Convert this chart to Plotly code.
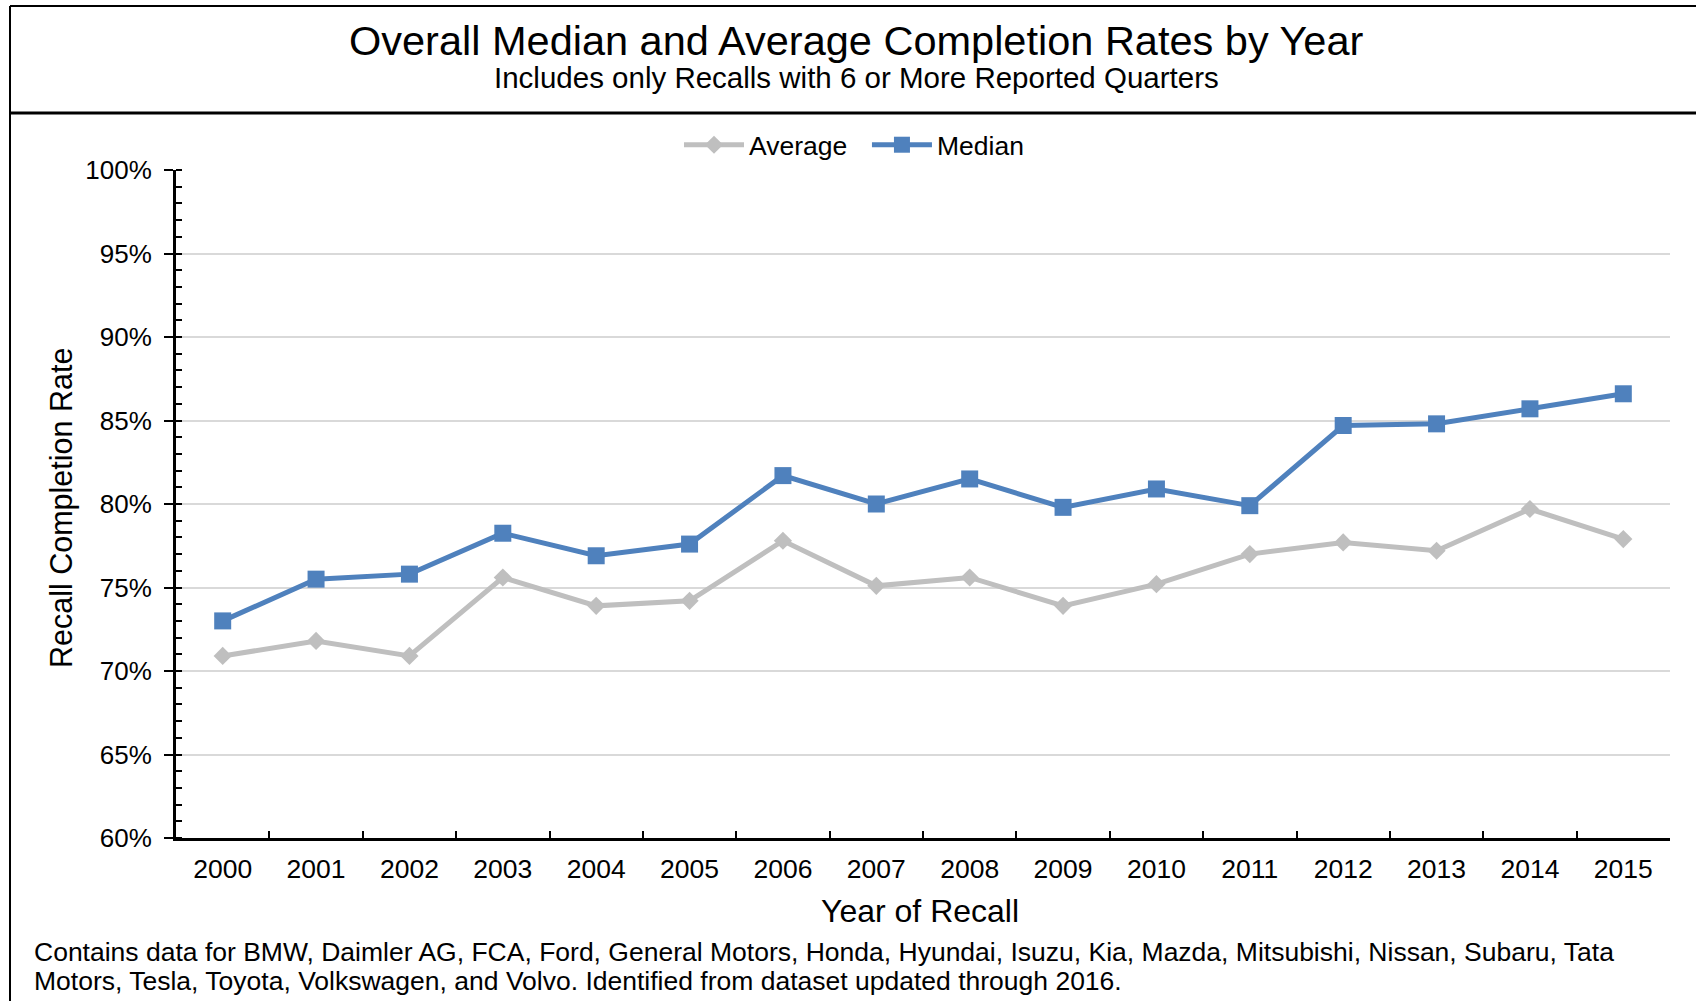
"""Overall median and average recall completion rates by year."""
import plotly.graph_objects as go

years = [str(y) for y in range(2000, 2016)]
average_rate = [70.9, 71.8, 70.9, 75.6, 73.9, 74.2, 77.8, 75.1,
                75.6, 73.9, 75.2, 77.0, 77.7, 77.2, 79.7, 77.9]
median_rate = [73.0, 75.5, 75.8, 78.25, 76.9, 77.6, 81.7, 80.0,
               81.5, 79.8, 80.9, 79.9, 84.7, 84.8, 85.7, 86.6]

FONT = 'Liberation Sans, Arial, sans-serif'
W, H = 1696, 1001
# plot area in pixels
L, R, T, B = 176, 1670, 170, 838


def px_x(x):
    return (x - L) / (R - L)


def px_y(y):
    return (B - y) / (B - T)


fig = go.Figure()

fig.add_trace(go.Scatter(
    x=years, y=average_rate, name='Average\u00a0\u00a0', mode='lines+markers',
    line=dict(color='#bfbfbf', width=5),
    marker=dict(symbol='diamond', size=14, color='#bfbfbf'),
))
fig.add_trace(go.Scatter(
    x=years, y=median_rate, name='Median', mode='lines+markers',
    line=dict(color='#4f81bd', width=5),
    marker=dict(symbol='square', size=17, color='#4f81bd'),
))

# ── frame lines ───────────────────────────────────────────────────────────
frame = [
    (10, 6, W, 6, 2),
    (10, 6, 10, H, 2),
    (10, 113, W, 113, 3),
]
shapes = [
    dict(type='line', xref='paper', yref='paper',
         x0=px_x(x0), y0=px_y(y0), x1=px_x(x1), y1=px_y(y1),
         line=dict(color='#000000', width=w))
    for x0, y0, x1, y1, w in frame
]

# ── text ──────────────────────────────────────────────────────────────────
def note(text, x, y, size, xanchor='center', angle=0):
    return dict(text=text, xref='paper', yref='paper', x=px_x(x), y=px_y(y),
                xanchor=xanchor, yanchor='middle', showarrow=False,
                textangle=angle, font=dict(family=FONT, size=size, color='#000000'))


annotations = [
    note('Overall Median and Average Completion Rates by Year', 856, 40, 41.5),
    note('Includes only Recalls with 6 or More Reported Quarters', 856, 78, 29.5),
    note('Year of Recall', 920, 911, 32),
    note('Recall Completion Rate', 62, 508, 30.5, angle=-90),
    note('Contains data for BMW, Daimler AG, FCA, Ford, General Motors, Honda, Hyundai, '
         'Isuzu, Kia, Mazda, Mitsubishi, Nissan, Subaru, Tata', 32, 952, 26.5, xanchor='left'),
    note('Motors, Tesla, Toyota, Volkswagen, and Volvo. Identified from dataset updated '
         'through 2016.', 32, 981, 26.5, xanchor='left'),
]

fig.update_layout(
    width=W, height=H,
    margin=dict(l=L, r=W - R, t=T, b=H - B),
    paper_bgcolor='#ffffff', plot_bgcolor='#ffffff',
    font=dict(family=FONT, size=26, color='#000000'),
    showlegend=True,
    legend=dict(
        orientation='h', x=px_x(854), y=px_y(145),
        xanchor='center', yanchor='middle',
        font=dict(size=26.5), itemwidth=60,
        bgcolor='rgba(0,0,0,0)',
    ),
    shapes=shapes,
    annotations=annotations,
    xaxis=dict(
        type='category', tickson='boundaries', range=[-0.5, 15.5],
        showline=True, linecolor='#000000', linewidth=3,
        ticks='inside', ticklen=7, tickwidth=2, tickcolor='#000000',
        ticklabelstandoff=5,
        showgrid=False, tickfont=dict(size=26.5),
    ),
    yaxis=dict(
        range=[60, 100], dtick=5, ticksuffix='%',
        showline=True, linecolor='#000000', linewidth=3,
        ticks='outside', ticklen=9, tickwidth=2, tickcolor='#000000',
        ticklabelstandoff=7,
        showgrid=True, gridcolor='#d9d9d9', gridwidth=2,
        zeroline=False, tickfont=dict(size=26),
        minor=dict(dtick=1, ticks='inside', ticklen=6, tickwidth=2,
                   tickcolor='#000000', showgrid=False),
    ),
)

fig.write_html('out.html', config={'displayModeBar': False},
               post_script="document.body.style.margin='0';")
